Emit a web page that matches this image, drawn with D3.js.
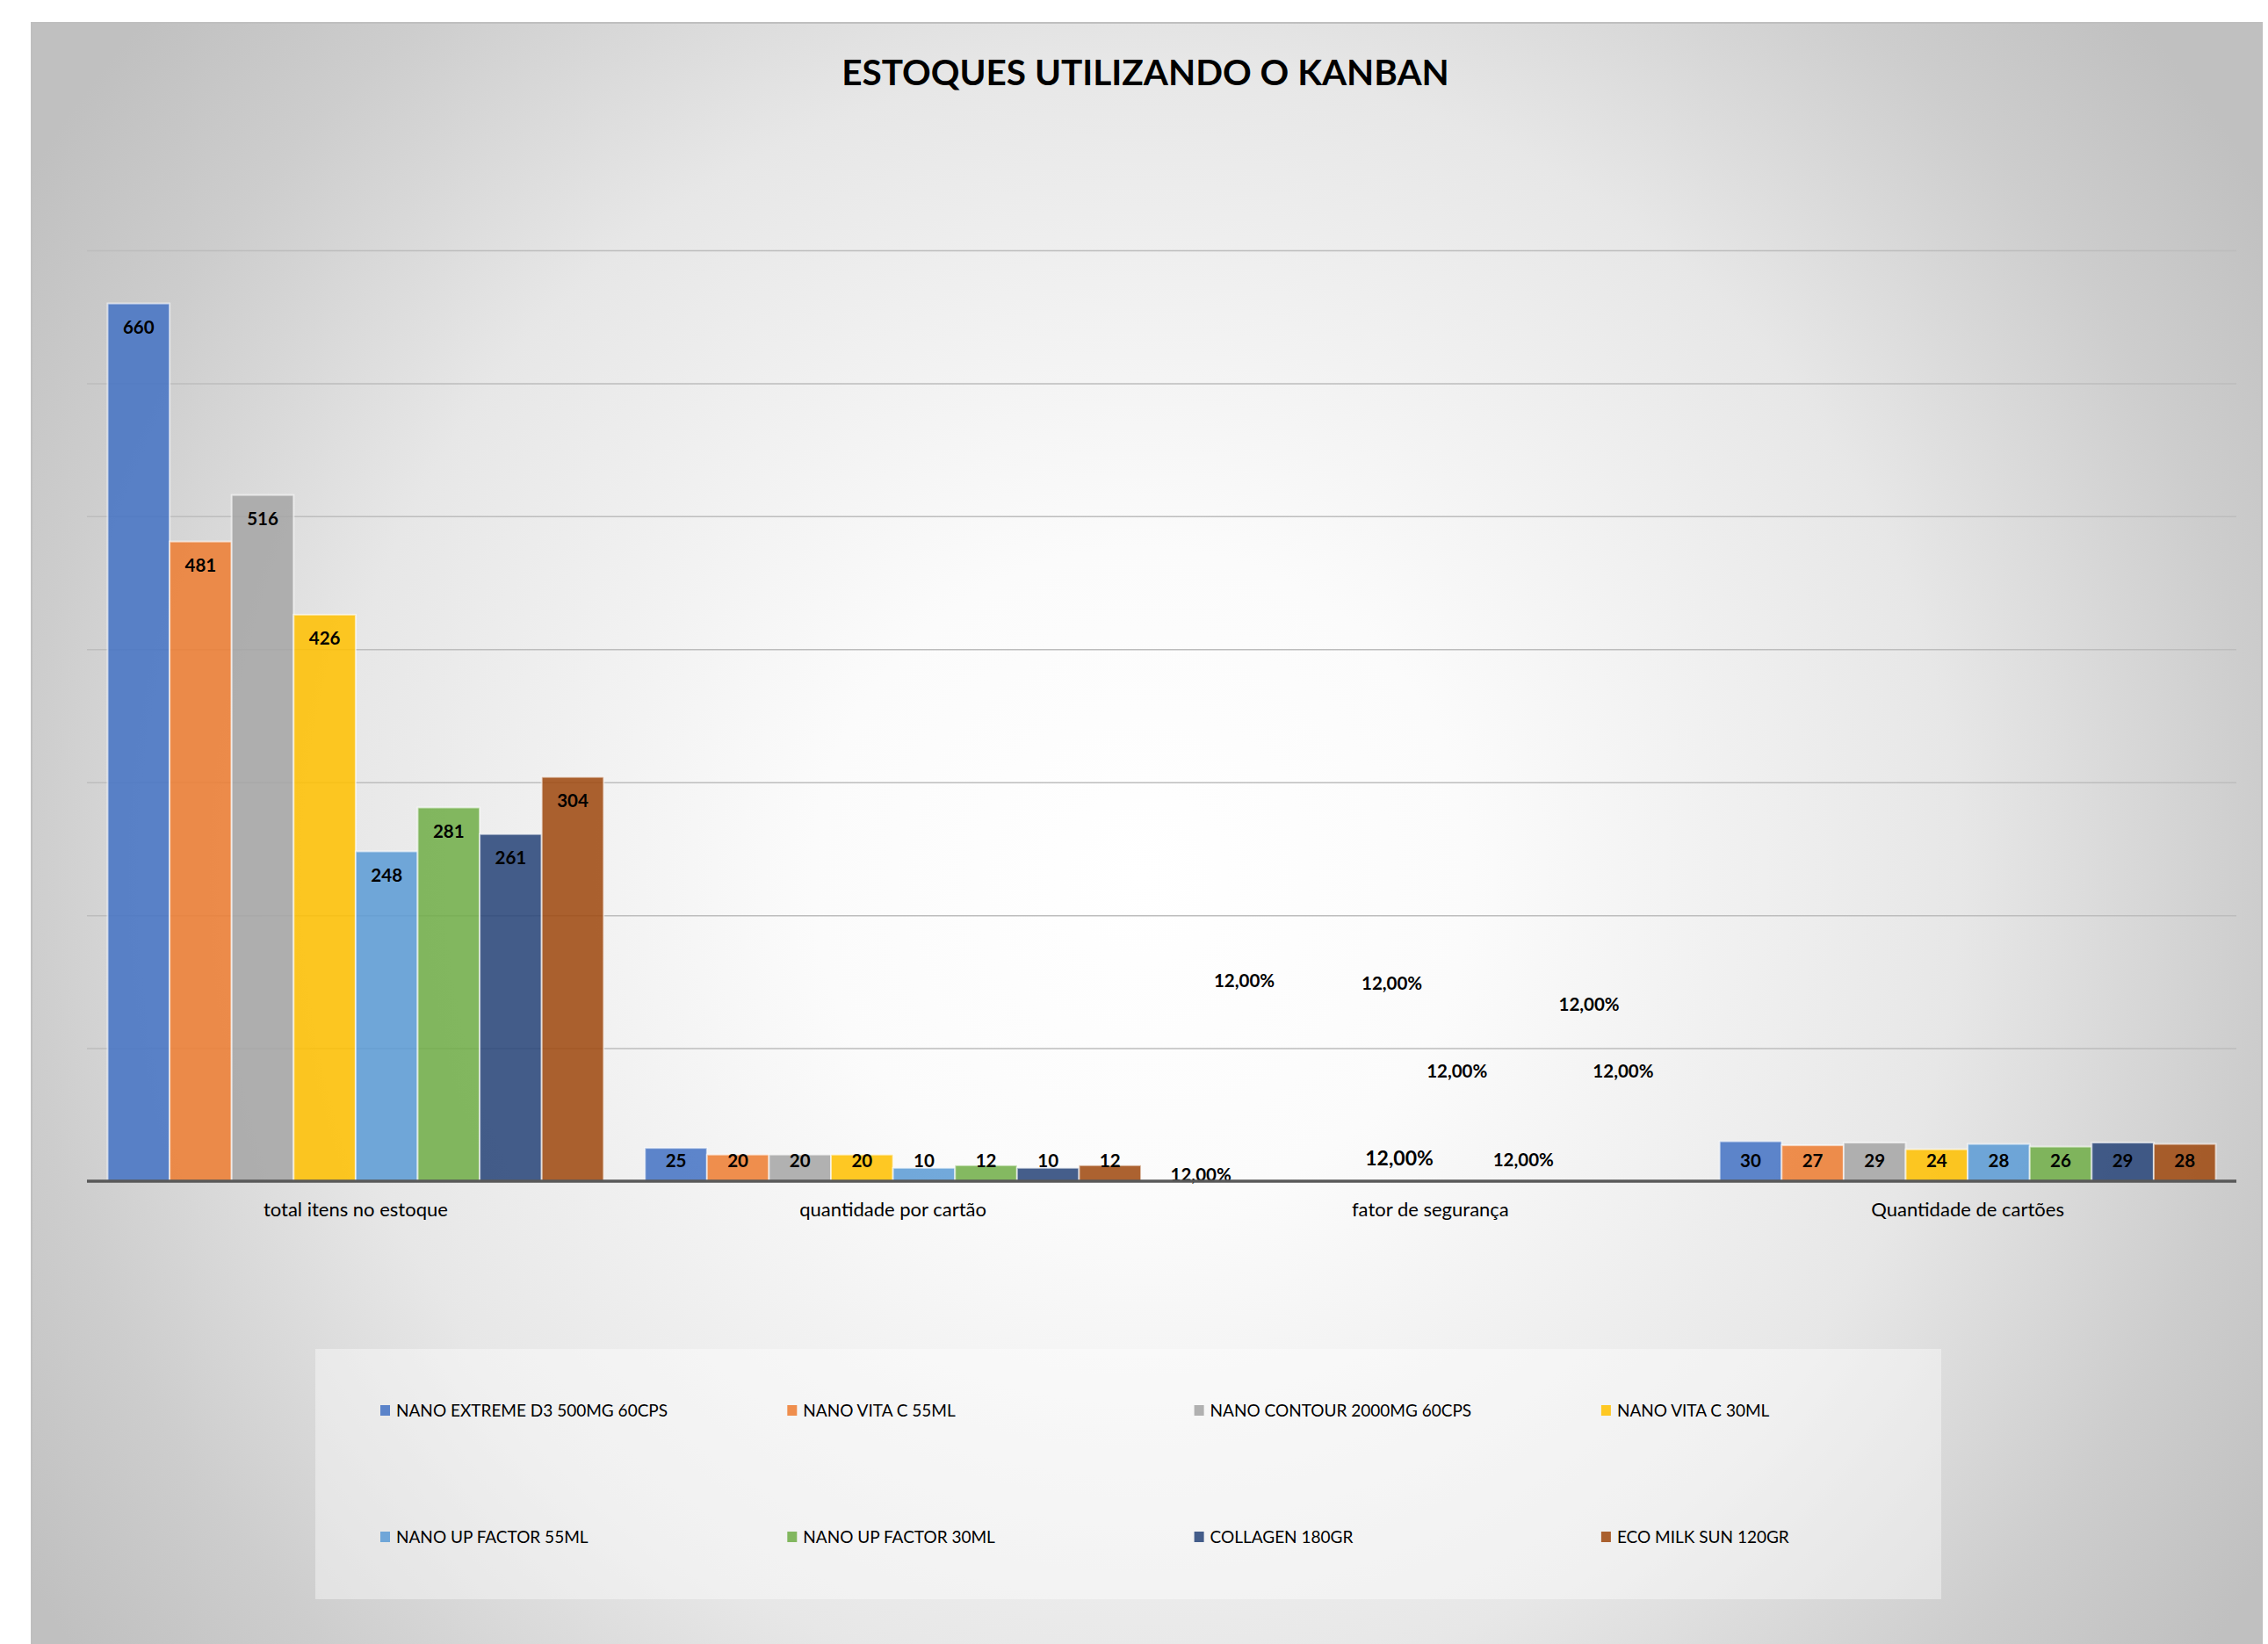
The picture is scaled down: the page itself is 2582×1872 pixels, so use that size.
<!DOCTYPE html>
<html>
<head>
<meta charset="utf-8">
<script src="https://cdn.jsdelivr.net/npm/d3@7"></script>
<style>
  body { margin: 0; background: #ffffff; }
  svg { display: block; font-family: Lato, "Open Sans", sans-serif; }
</style>
</head>
<body>
<svg id="chart"></svg>
<script>
var categories = ["total itens no estoque", "quantidade por cartão", "fator de segurança", "Quantidade de cartões"];

var seriesNames = [
  "NANO EXTREME D3 500MG 60CPS", "NANO VITA C 55ML", "NANO CONTOUR 2000MG 60CPS", "NANO VITA C 30ML",
  "NANO UP FACTOR 55ML", "NANO UP FACTOR 30ML", "COLLAGEN 180GR", "ECO MILK SUN 120GR"
];

// one row per category, one value per series
var totalItens = [660, 481, 516, 426, 248, 281, 261, 304];
var qtdPorCartao = [25, 20, 20, 20, 10, 12, 10, 12];
var fatorSeguranca = [0.12, 0.12, 0.12, 0.12, 0.12, 0.12, 0.12, 0.12];
var qtdCartoes = [30, 27, 29, 24, 28, 26, 29, 28];

var yTicks = [0, 100, 200, 300, 400, 500, 600, 700];

var colors = ["#4472c4", "#ed7d31", "#a5a5a5", "#ffc000", "#5b9bd5", "#70ad47", "#264478", "#9e480e"];

// the "fator" labels were dragged by hand in the original: [shift in bar widths, height in axis units]
var fatorLabelPos = [[-0.2, 4.6], [-0.5, 150.6], [0.88, 148.6], [0, 17.2], [-0.07, 82.6], [0, 15.9], [0.06, 132.8], [-0.39, 82.6]];

var width = 2582;
var height = 1872;

var columns = [totalItens, qtdPorCartao, fatorSeguranca, qtdCartoes];

var svg = d3.select("#chart")
  .attr("width", width)
  .attr("height", height);

var defs = svg.append("defs");
var grad = defs.append("radialGradient")
  .attr("id", "bg")
  .attr("gradientUnits", "userSpaceOnUse")
  .attr("cx", 1300).attr("cy", 1000).attr("r", 1500);
grad.append("stop").attr("offset", "0").attr("stop-color", "#ffffff");
grad.append("stop").attr("offset", "0.25").attr("stop-color", "#fbfbfb");
grad.append("stop").attr("offset", "0.62").attr("stop-color", "#e7e7e7");
grad.append("stop").attr("offset", "0.85").attr("stop-color", "#cdcdcd");
grad.append("stop").attr("offset", "1").attr("stop-color", "#c0c0c0");

// chart area
svg.append("rect")
  .attr("x", 36).attr("y", 26)
  .attr("width", 2539).attr("height", height)
  .attr("fill", "url(#bg)")
  .attr("stroke", "#bfbfbf")
  .attr("stroke-width", 2);

svg.append("text")
  .attr("x", 1304)
  .attr("y", 97)
  .attr("text-anchor", "middle")
  .style("font-size", "40.5px")
  .style("font-weight", "bold")
  .attr("fill", "#000")
  .text("ESTOQUES UTILIZANDO O KANBAN");

var plotLeft = 99, plotRight = 2546, plotTop = 285, baseY = 1345;

var x0 = d3.scaleBand()
  .domain(categories)
  .range([plotLeft, plotRight])
  .paddingInner(0.0767)
  .paddingOuter(0.0384);

var x1 = d3.scaleBand()
  .domain(d3.range(seriesNames.length))
  .range([0, x0.bandwidth()]);

var y = d3.scaleLinear()
  .domain([0, 700])
  .range([baseY, plotTop]);

// gridlines
var grid = svg.append("g")
  .attr("transform", "translate(" + plotLeft + ",0)")
  .call(d3.axisLeft(y).tickValues(yTicks.slice(1)).tickSize(-(plotRight - plotLeft)).tickFormat(""));
grid.select(".domain").remove();
grid.selectAll("line").attr("stroke", "#bdbdbd").attr("stroke-width", 1.5);

// bars
var groups = svg.selectAll("g.cat")
  .data(categories)
  .enter()
  .append("g")
  .attr("class", "cat")
  .attr("transform", function(d) { return "translate(" + x0(d) + ",0)"; });

groups.selectAll("rect")
  .data(function(d, ci) { return columns[ci].map(function(v, si) { return {ci: ci, si: si, v: v}; }); })
  .enter()
  .append("rect")
  .attr("x", function(d) { return x1(d.si); })
  .attr("y", function(d) { return y(d.v); })
  .attr("width", x1.bandwidth())
  .attr("height", function(d) { return baseY - y(d.v); })
  .attr("fill", function(d) { return colors[d.si]; })
  .attr("fill-opacity", 0.86)
  .attr("stroke", "#ffffff")
  .attr("stroke-opacity", 0.6)
  .attr("stroke-width", 2);

// data labels
var pct = function(v) { return (v * 100).toFixed(2).replace(".", ",") + "%"; };

groups.selectAll("text.lbl")
  .data(function(d, ci) { return columns[ci].map(function(v, si) { return {ci: ci, si: si, v: v}; }); })
  .enter()
  .append("text")
  .attr("class", "lbl")
  .attr("text-anchor", "middle")
  .attr("dy", "0.35em")
  .style("font-weight", "bold")
  .style("font-size", function(d) { return (d.ci == 2 && d.si == 3) ? "23px" : "20.5px"; })
  .attr("fill", "#000")
  .attr("x", function(d) {
    var cx = x1(d.si) + x1.bandwidth() / 2;
    if (d.ci == 2) cx += fatorLabelPos[d.si][0] * x1.bandwidth();
    return cx;
  })
  .attr("y", function(d) {
    if (d.ci == 2) return y(fatorLabelPos[d.si][1]);
    return Math.min(y(d.v) + 27, baseY - 23);
  })
  .text(function(d) { return d.ci == 2 ? pct(d.v) : d.v; });

// x axis
var xAxis = svg.append("g")
  .attr("transform", "translate(0," + baseY + ")")
  .call(d3.axisBottom(x0).tickSize(0).tickPadding(24));
xAxis.select(".domain").remove();
xAxis.selectAll("text")
  .style("font-size", "22px")
  .style("font-family", "Lato, sans-serif")
  .attr("fill", "#000");

svg.append("line")
  .attr("x1", plotLeft).attr("x2", plotRight)
  .attr("y1", baseY).attr("y2", baseY)
  .attr("stroke", "#595959")
  .attr("stroke-width", 3.5);

// legend
svg.append("rect")
  .attr("x", 359).attr("y", 1536)
  .attr("width", 1851).attr("height", 285)
  .attr("fill", "#ffffff")
  .attr("fill-opacity", 0.4);

var legend = svg.selectAll("g.leg")
  .data(seriesNames)
  .enter()
  .append("g")
  .attr("class", "leg")
  .attr("transform", function(d, i) {
    return "translate(" + (433 + (i % 4) * 463.3) + "," + (1606 + Math.floor(i / 4) * 144) + ")";
  });

legend.append("rect")
  .attr("x", 0).attr("y", -6)
  .attr("width", 11).attr("height", 12)
  .attr("fill", function(d, i) { return colors[i]; })
  .attr("fill-opacity", 0.86);

legend.append("text")
  .attr("x", 18)
  .attr("dy", "0.35em")
  .style("font-size", "19px")
  .attr("fill", "#000")
  .text(function(d) { return d; });
</script>
</body>
</html>
